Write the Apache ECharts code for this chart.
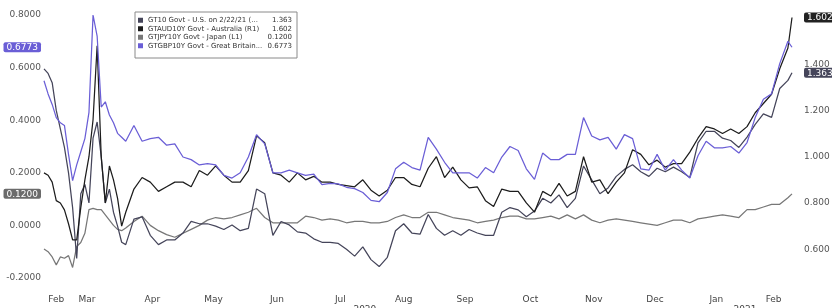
<!DOCTYPE html>
<html>
<head>
<meta charset="utf-8">
<script src="https://cdn.jsdelivr.net/npm/echarts@6/dist/echarts.min.js"></script>
<style>
  html, body { margin: 0; padding: 0; background: #fff; }
  #chart { width: 832px; height: 308px; }
</style>
</head>
<body>
<div id="chart"></div>
<script>
// sample dates (every 2 days in the March sell-off, then every 4 days)
const dates = [
  '2020-02-22','2020-02-24','2020-02-26','2020-02-28','2020-03-01','2020-03-03','2020-03-05','2020-03-07',
  '2020-03-09','2020-03-11','2020-03-13','2020-03-15','2020-03-17','2020-03-19','2020-03-21','2020-03-23',
  '2020-03-25','2020-03-27','2020-03-29','2020-03-31','2020-04-02',
  '2020-04-06','2020-04-10','2020-04-14','2020-04-18','2020-04-22','2020-04-26','2020-04-30','2020-05-04',
  '2020-05-08','2020-05-12','2020-05-16','2020-05-20','2020-05-24','2020-05-28','2020-06-01','2020-06-05',
  '2020-06-09','2020-06-13','2020-06-17','2020-06-21','2020-06-25','2020-06-29','2020-07-03','2020-07-07',
  '2020-07-11','2020-07-15','2020-07-19','2020-07-23','2020-07-27','2020-07-31','2020-08-04','2020-08-08',
  '2020-08-12','2020-08-16','2020-08-20','2020-08-24','2020-08-28','2020-09-01','2020-09-05','2020-09-09',
  '2020-09-13','2020-09-17','2020-09-21','2020-09-25','2020-09-29','2020-10-03','2020-10-07','2020-10-11',
  '2020-10-15','2020-10-19','2020-10-23','2020-10-27','2020-10-31','2020-11-04','2020-11-08','2020-11-12',
  '2020-11-16','2020-11-20','2020-11-24','2020-11-28','2020-12-02','2020-12-06','2020-12-10','2020-12-14',
  '2020-12-18','2020-12-22','2020-12-26','2020-12-30','2021-01-03','2021-01-07','2021-01-11','2021-01-15',
  '2021-01-19','2021-01-23','2021-01-27','2021-01-31','2021-02-04','2021-02-08','2021-02-12','2021-02-16',
  '2021-02-20','2021-02-22'
];

// GT10 Govt - U.S. (right axis)
const usYield = [
  1.38,1.36,1.32,1.20,1.12,1.04,0.93,0.78,0.56,0.84,0.88,0.80,1.08,1.15,1.00,0.80,0.86,0.76,0.70,0.63,0.62,
  0.73,0.74,0.66,0.62,0.64,0.64,0.67,0.72,0.71,0.71,0.70,0.685,0.705,0.68,0.69,0.86,0.84,0.66,0.72,0.705,
  0.675,0.67,0.645,0.63,0.63,0.625,0.60,0.57,0.61,0.555,0.525,0.565,0.68,0.71,0.67,0.665,0.75,0.69,0.66,
  0.68,0.66,0.685,0.67,0.66,0.66,0.76,0.78,0.77,0.74,0.765,0.82,0.80,0.835,0.78,0.82,0.96,0.90,0.84,0.865,
  0.915,0.945,0.965,0.935,0.915,0.95,0.935,0.955,0.935,0.91,1.06,1.11,1.11,1.08,1.07,1.04,1.085,1.14,1.185,
  1.17,1.295,1.33,1.363
];

// GTAUD10Y Govt - Australia (right axis)
const auYield = [
  0.93,0.92,0.89,0.81,0.80,0.77,0.71,0.64,0.64,0.78,0.90,1.00,1.16,1.48,1.00,0.80,0.96,0.90,0.82,0.70,0.76,
  0.86,0.91,0.89,0.85,0.87,0.89,0.89,0.87,0.94,0.92,0.96,0.92,0.89,0.89,0.94,1.09,1.06,0.93,0.92,0.89,
  0.93,0.90,0.915,0.89,0.89,0.88,0.875,0.87,0.90,0.855,0.83,0.855,0.91,0.91,0.88,0.87,0.95,1.00,0.91,
  0.955,0.90,0.865,0.87,0.81,0.785,0.86,0.85,0.85,0.80,0.76,0.85,0.83,0.885,0.83,0.85,1.00,0.89,0.90,0.84,
  0.89,0.93,1.03,1.01,0.965,0.985,0.955,0.97,0.97,1.02,1.08,1.13,1.12,1.10,1.12,1.10,1.13,1.19,1.23,
  1.27,1.38,1.47,1.602
];

// GTJPY10Y Govt - Japan (left axis)
const jpYield = [
  -0.09,-0.10,-0.12,-0.15,-0.12,-0.125,-0.115,-0.16,-0.08,-0.065,-0.03,0.06,0.065,0.06,0.06,0.04,0.02,0.0,-0.015,-0.02,-0.01,
  0.015,0.035,0.0,-0.02,-0.035,-0.045,-0.03,-0.015,0.0,0.02,0.03,0.025,0.03,0.04,0.05,0.065,0.03,0.01,0.01,0.01,
  0.01,0.035,0.03,0.02,0.025,0.02,0.01,0.015,0.015,0.01,0.01,0.015,0.03,0.04,0.03,0.03,0.05,0.05,0.04,
  0.03,0.025,0.02,0.01,0.015,0.02,0.03,0.035,0.035,0.025,0.025,0.03,0.035,0.025,0.04,0.025,0.04,0.02,0.01,0.02,
  0.025,0.02,0.015,0.01,0.005,0.0,0.01,0.02,0.02,0.01,0.025,0.03,0.035,0.04,0.035,0.03,0.06,0.06,0.07,
  0.08,0.08,0.105,0.12
];

// GTGBP10Y Govt - Great Britain (left axis)
const gbYield = [
  0.55,0.50,0.46,0.41,0.39,0.38,0.27,0.17,0.23,0.28,0.33,0.43,0.80,0.72,0.45,0.47,0.42,0.39,0.35,0.335,0.32,
  0.38,0.32,0.33,0.335,0.305,0.31,0.26,0.25,0.23,0.235,0.23,0.19,0.18,0.20,0.26,0.345,0.31,0.20,0.20,0.21,
  0.20,0.19,0.195,0.155,0.16,0.158,0.145,0.14,0.125,0.095,0.09,0.125,0.215,0.24,0.22,0.21,0.335,0.29,0.24,
  0.20,0.20,0.20,0.18,0.22,0.20,0.26,0.30,0.285,0.215,0.175,0.275,0.25,0.25,0.27,0.27,0.41,0.34,0.325,0.335,
  0.29,0.345,0.33,0.215,0.21,0.27,0.21,0.25,0.21,0.18,0.265,0.32,0.295,0.295,0.30,0.275,0.315,0.41,0.48,
  0.50,0.615,0.70,0.6773
];

const seriesNames = [
  'GT10 Govt - U.S. on 2/22/21 (...',
  'GTAUD10Y Govt - Australia (R1)',
  'GTJPY10Y Govt - Japan (L1)',
  'GTGBP10Y Govt - Great Britain...'
];
const lastValues = ['1.363', '1.602', '0.1200', '0.6773'];
const seriesColors = ['#45455a', '#1c1c1c', '#777777', '#6a5ed6'];

const leftTicks = [-0.2, 0, 0.2, 0.4, 0.6, 0.8];
const rightTicks = [0.6, 0.8, 1.0, 1.2, 1.4];
const monthTicks = ['2020-02-28','2020-03-14','2020-04-15','2020-05-15','2020-06-15','2020-07-16',
  '2020-08-16','2020-09-15','2020-10-17','2020-11-17','2020-12-17','2021-01-16','2021-02-13'];
const yearTicks = ['2020-07-28', '2021-01-30'];
const monthNames = ['Jan','Feb','Mar','Apr','May','Jun','Jul','Aug','Sep','Oct','Nov','Dec'];

const toTime = s => {
  const p = s.split('-').map(Number);
  return new Date(p[0], p[1] - 1, p[2]).getTime();
};
const pairs = vals => dates.map((d, i) => [toTime(d), vals[i]]);
const near = (a, b) => Math.abs(a - b) < 1e-6;

const font = 'DejaVu Sans';
const tag = bg => ({ backgroundColor: bg, color: '#fff', padding: [1, 3, 0, 3], borderRadius: 2, fontSize: 9, fontFamily: font });

const chart = echarts.init(document.getElementById('chart'));

const lineSeries = (idx, axis, vals) => ({
  name: seriesNames[idx],
  type: 'line',
  yAxisIndex: axis,
  data: pairs(vals),
  showSymbol: false,
  symbol: 'none',
  lineStyle: { width: 1.25, color: seriesColors[idx] },
  itemStyle: { color: seriesColors[idx] },
  emphasis: { disabled: true }
});

// date axis drawn as a value axis over timestamps so labels can sit mid-month
const dateAxis = (ticks, fmt, offset) => ({
  type: 'value',
  min: toTime('2020-02-22'),
  max: toTime('2021-02-22'),
  position: 'bottom',
  offset: offset,
  axisLine: { show: false },
  axisTick: { show: false },
  splitLine: { show: false },
  axisLabel: {
    customValues: ticks.map(toTime),
    formatter: fmt,
    margin: 17,
    color: '#444',
    fontSize: 9,
    fontFamily: font
  }
});

chart.setOption({
  animation: false,
  grid: { left: 44, right: 40, top: 15, bottom: 30, outerBoundsMode: 'none' },
  legend: {
    orient: 'vertical',
    left: 135,
    top: 12,
    icon: 'rect',
    itemWidth: 5,
    itemHeight: 5,
    itemGap: 0,
    itemTextGap: 2,
    backgroundColor: '#fff',
    borderColor: '#8a8a8a',
    borderWidth: 1,
    padding: [4, 5, 8, 3],
    data: seriesNames,
    formatter: name => '{n|' + name + '}{v|' + lastValues[seriesNames.indexOf(name)] + '}',
    textStyle: {
      fontFamily: font,
      fontSize: 7,
      lineHeight: 8.5,
      color: '#333',
      rich: {
        n: { width: 120, fontSize: 7, lineHeight: 8.5, fontFamily: font, color: '#333' },
        v: { width: 24, align: 'right', fontSize: 7, lineHeight: 8.5, fontFamily: font, color: '#333' }
      }
    }
  },
  xAxis: [
    dateAxis(monthTicks, v => monthNames[new Date(v).getMonth()], 0),
    dateAxis(yearTicks, v => String(new Date(v).getFullYear()), 10)
  ],
  yAxis: [{
    type: 'value',
    position: 'left',
    min: -0.2,
    max: 0.8,
    axisLine: { show: false },
    axisTick: { show: false },
    splitLine: { show: false },
    axisLabel: {
      customValues: leftTicks.concat([0.12, 0.6773]),
      margin: 3,
      formatter: v => {
        if (near(v, 0.12)) return '{jp|0.1200}';
        if (near(v, 0.6773)) return '{gb|0.6773}';
        return '{n|' + v.toFixed(4) + '}';
      },
      rich: {
        n: { color: '#555', fontSize: 9, fontFamily: font },
        jp: tag('#6b6b6b'),
        gb: tag('#6a5ed6')
      }
    }
  }, {
    type: 'value',
    position: 'right',
    min: 0.4755,
    max: 1.6127,
    axisLine: { show: false },
    axisTick: { show: false },
    splitLine: { show: false },
    axisLabel: {
      customValues: rightTicks.concat([1.602, 1.363]),
      margin: 12,
      formatter: v => {
        if (near(v, 1.602)) return '{au|1.602}';
        if (near(v, 1.363)) return '{us|1.363}';
        return '{n|' + v.toFixed(3) + '}';
      },
      rich: {
        n: { color: '#555', fontSize: 9, fontFamily: font },
        au: tag('#222222'),
        us: tag('#45455a')
      }
    }
  }],
  series: [
    lineSeries(2, 0, jpYield),
    lineSeries(0, 1, usYield),
    lineSeries(1, 1, auYield),
    lineSeries(3, 0, gbYield)
  ]
});
</script>
</body>
</html>
